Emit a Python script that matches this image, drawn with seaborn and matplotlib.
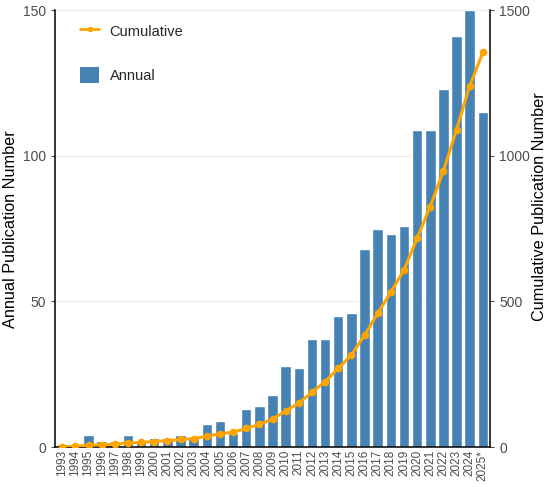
import numpy as np
import pandas as pd
import matplotlib
matplotlib.use("Agg")
import matplotlib.pyplot as plt
import seaborn as sns
from matplotlib.lines import Line2D
from matplotlib.patches import Patch

years = ["1993", "1994", "1995", "1996", "1997", "1998", "1999", "2000", "2001",
         "2002", "2003", "2004", "2005", "2006", "2007", "2008", "2009", "2010",
         "2011", "2012", "2013", "2014", "2015", "2016", "2017", "2018", "2019",
         "2020", "2021", "2022", "2023", "2024", "2025*"]
annual = [1, 1, 4, 2, 2, 4, 2, 3, 3, 4, 3, 8, 9, 5, 13, 14, 18, 28, 27, 37, 37,
          45, 46, 68, 75, 73, 76, 109, 109, 123, 141, 150, 115]
cumulative = [1, 2, 6, 8, 10, 14, 16, 19, 22, 26, 29, 37, 46, 51, 64, 78, 96, 124,
              151, 188, 225, 270, 316, 384, 459, 532, 608, 717, 826, 949, 1090,
              1240, 1355]
left_ticks = [0, 50, 100, 150]
right_ticks = [0, 500, 1000, 1500]

sns.set_theme(style="white")
plt.rcParams['font.family'] = ['Liberation Sans', 'DejaVu Sans']

bar_color = "#4682B4"
line_color = "#FFA500"
tick_color = "#4D4D4D"

df = pd.DataFrame({"year": years, "annual": annual})

fig = plt.figure(figsize=(5.5, 4.87), dpi=100)
ax = fig.add_axes([0.1, 0.082, 0.791, 0.897])

for t in left_ticks[1:]:
    ax.axhline(t, color="#EBEBEB", lw=0.8, zorder=0)

sns.barplot(data=df, x="year", y="annual", color=bar_color, saturation=1,
            width=0.8, ax=ax, zorder=2)
ax.set_ylim(0, 150)
ax.set_xlim(-0.55, len(years) - 0.45)
ax.set_yticks(left_ticks)
ax.set_xlabel("")
ax.set_ylabel("Annual Publication Number", fontsize=11.7, color="black")
ax.yaxis.set_label_coords(-0.085, 0.5)
ax.tick_params(axis="y", labelsize=10, colors=tick_color, length=3, width=0.8,
               direction="out", left=True)
ax.tick_params(axis="x", labelsize=8.5, colors=tick_color, rotation=90, length=0,
               pad=2)

ax2 = ax.twinx()
sns.lineplot(x=np.arange(len(years)), y=cumulative, ax=ax2, color=line_color,
             marker="o", markersize=5.5, markeredgewidth=0, linewidth=2.2,
             zorder=3)
ax2.set_ylim(0, 1500)
ax2.set_yticks(right_ticks)
ax2.set_ylabel("Cumulative Publication Number", fontsize=11.7, color="black")
ax2.yaxis.set_label_coords(1.097, 0.55)
ax2.tick_params(axis="y", labelsize=10, colors=tick_color, length=3, width=0.8,
                direction="out", right=True)

for a in (ax, ax2):
    for s in a.spines.values():
        s.set_visible(False)
ax.spines["left"].set_visible(True)
ax.spines["bottom"].set_visible(True)
ax2.spines["right"].set_visible(True)
for a, s in ((ax, "left"), (ax, "bottom"), (ax2, "right")):
    a.spines[s].set_color("black")
    a.spines[s].set_linewidth(1.1)

handles = [Line2D([0], [0], color=line_color, lw=2, marker="o", markersize=4,
                  markeredgewidth=0),
           Patch(facecolor=bar_color, edgecolor="none")]
ax2.legend(handles, ["Cumulative", "Annual"], loc="upper left",
           bbox_to_anchor=(0.045, 0.985), frameon=False, fontsize=10.5,
           handlelength=1.3, handleheight=1.35, labelspacing=1.9,
           handletextpad=0.7, borderaxespad=0)

fig.savefig("out.png", dpi=100)
